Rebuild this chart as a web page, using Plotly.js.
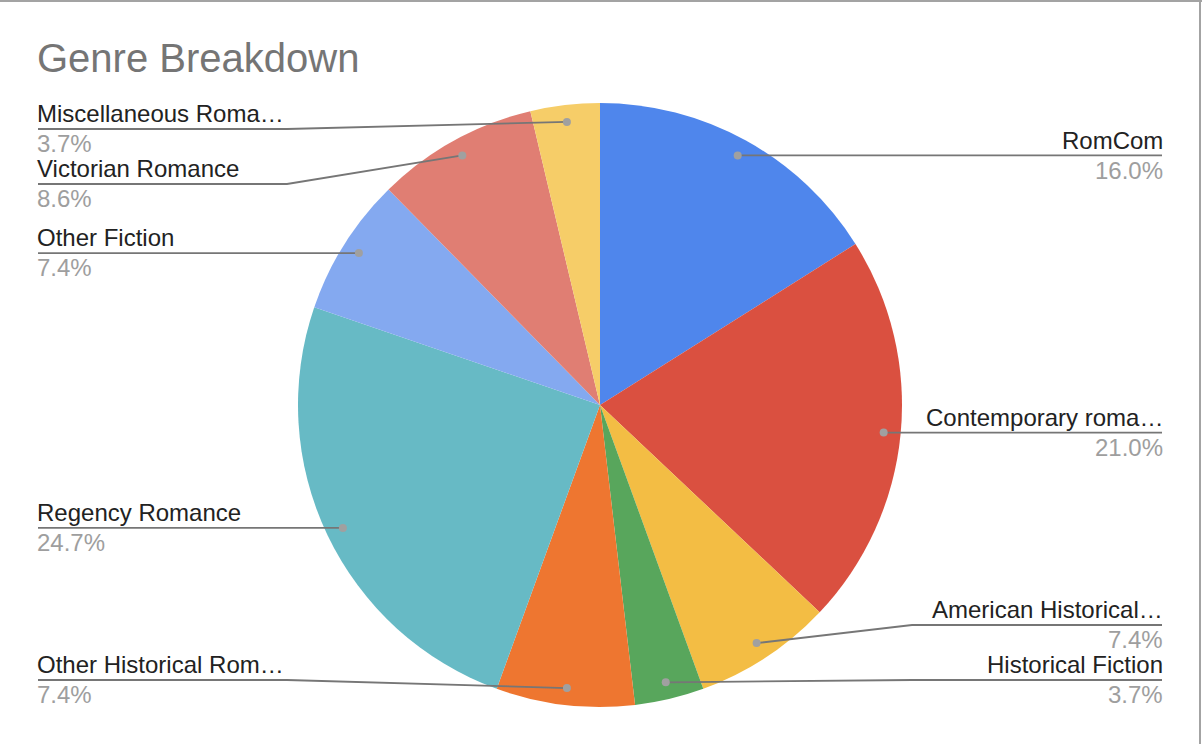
<!DOCTYPE html>
<html>
<head>
<meta charset="utf-8">
<script src="https://cdn.plot.ly/plotly-3.0.1.min.js"></script>
<style>
  html, body { margin: 0; padding: 0; background: #ffffff; }
  #chart { width: 1202px; height: 744px; }
</style>
</head>
<body>
<div id="chart"></div>
<script>
// ---- Data ----
const categories = [
  "RomCom",
  "Contemporary roma…",
  "American Historical…",
  "Historical Fiction",
  "Other Historical Rom…",
  "Regency Romance",
  "Other Fiction",
  "Victorian Romance",
  "Miscellaneous Roma…"
];
const counts = [13, 17, 6, 3, 6, 20, 6, 7, 3];
const sliceColors = [
  "#4F86EC", "#DA5040", "#F3BD44", "#58A65C", "#EE7630",
  "#67BAC5", "#84A9F0", "#E07E73", "#F6CD68"
];
const chartTitle = "Genre Breakdown";

// ---- Layout constants ----
const W = 1202, H = 744;
const cx = 600, cy = 405, R = 302;
const dotR = 285;
const labelFont = 24;
const fontFam = "Liberation Sans, Arial, sans-serif";
const leftX0 = 38, leftX1 = 287;
const rightX0 = 912, rightX1 = 1162;
const gap = 55, topBound = 129, botBound = 680;

const total = counts.reduce((a, b) => a + b, 0);
const pct = counts.map(v => (v / total * 100).toFixed(1) + "%");

// anchor points on each slice (clockwise from 12 o'clock)
let cum = 0;
const anchors = counts.map((v, i) => {
  const mid = (cum + v / 2) / total;
  cum += v;
  const th = mid * 2 * Math.PI;
  return { i, x: cx + dotR * Math.sin(th), y: cy - dotR * Math.cos(th), right: Math.sin(th) > 0 };
});

function placeSide(list) {
  list.sort((p, q) => p.y - q.y);
  list.forEach((p, k) => {
    p.ly = Math.max(p.y, topBound);
    if (k > 0) p.ly = Math.max(p.ly, list[k - 1].ly + gap);
  });
  for (let k = list.length - 1; k >= 0; k--) {
    const p = list[k];
    p.ly = Math.min(p.ly, botBound);
    if (k < list.length - 1) p.ly = Math.min(p.ly, list[k + 1].ly - gap);
  }
}
placeSide(anchors.filter(p => p.right));
placeSide(anchors.filter(p => !p.right));

const shapes = [];
const annotations = [];
const off = 0.3465 * labelFont;
anchors.forEach(p => {
  const e0 = p.right ? rightX0 : leftX1;
  const e1 = p.right ? rightX1 : leftX0;
  shapes.push({
    type: "path", xref: "x", yref: "y", layer: "above",
    path: `M${p.x},${p.y} L${e0},${p.ly} L${e1},${p.ly}`,
    line: { color: "#767676", width: 1.8 }
  });
  shapes.push({
    type: "circle", xref: "x", yref: "y", layer: "above",
    xsizemode: "pixel", ysizemode: "pixel", xanchor: p.x, yanchor: p.y,
    x0: -4, x1: 4, y0: -4, y1: 4,
    fillcolor: "#A0A0A0", line: { width: 0 }
  });
  const xa = p.right ? "right" : "left";
  const tx = p.right ? e1 + 1 : e1 - 1;
  annotations.push({
    xref: "x", yref: "y", x: tx, y: p.ly - 7 - off, text: categories[p.i],
    showarrow: false, xanchor: xa, yanchor: "middle", borderpad: 0, borderwidth: 0,
    font: { family: fontFam, size: labelFont, color: "#222222" }
  });
  annotations.push({
    xref: "x", yref: "y", x: tx, y: p.ly + 23 - off, text: pct[p.i],
    showarrow: false, xanchor: xa, yanchor: "middle", borderpad: 0, borderwidth: 0,
    font: { family: fontFam, size: labelFont, color: "#9E9E9E" }
  });
});

const titleSize = 40;
annotations.push({
  xref: "x", yref: "y", x: 37, y: 72 - 0.3465 * titleSize, text: chartTitle,
  showarrow: false, xanchor: "left", yanchor: "middle", borderpad: 0, borderwidth: 0,
  font: { family: fontFam, size: titleSize, color: "#757575" }
});

const pieTrace = {
  type: "pie",
  values: counts,
  labels: categories,
  marker: { colors: sliceColors, line: { width: 0 } },
  sort: false,
  direction: "clockwise",
  rotation: 0,
  textinfo: "none",
  hoverinfo: "none",
  showlegend: false,
  domain: {
    x: [(cx - R) / W, (cx + R) / W],
    y: [(H - cy - R) / H, (H - cy + R) / H]
  }
};

// invisible trace to establish the pixel-unit cartesian scale
const scaleTrace = {
  type: "scatter", mode: "none", x: [0, W], y: [0, H],
  hoverinfo: "skip", showlegend: false
};

shapes.push(
  { type: "line", xref: "paper", yref: "paper", x0: 0, x1: 1, y0: 1 - 1 / H, y1: 1 - 1 / H,
    line: { color: "#A3A3A3", width: 2 } },
  { type: "line", xref: "paper", yref: "paper", x0: 1200 / W, x1: 1200 / W, y0: 0, y1: 1,
    line: { color: "#A3A3A3", width: 2 } }
);

const layout = {
  width: W, height: H,
  margin: { l: 0, r: 0, t: 0, b: 0 },
  paper_bgcolor: "#ffffff", plot_bgcolor: "rgba(0,0,0,0)",
  showlegend: false,
  hovermode: false,
  xaxis: { range: [0, W], visible: false, fixedrange: true, domain: [0, 1] },
  yaxis: { range: [H, 0], visible: false, fixedrange: true, domain: [0, 1] },
  annotations: annotations,
  shapes: shapes
};

Plotly.newPlot("chart", [scaleTrace, pieTrace], layout, { displayModeBar: false, staticPlot: true });
</script>
</body>
</html>
